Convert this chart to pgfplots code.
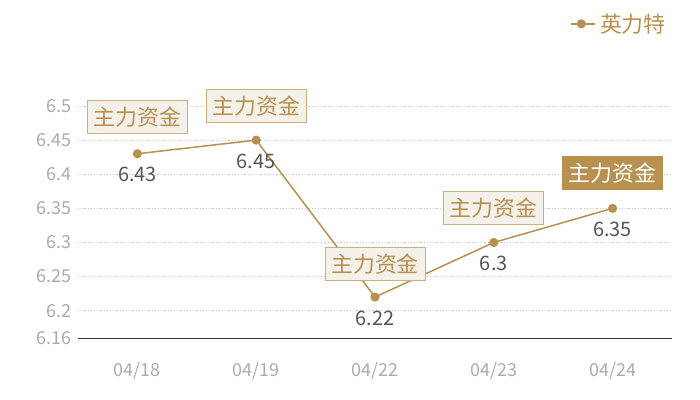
\documentclass[border=0pt]{standalone}
\usepackage{fontspec}
\setmainfont{Noto Sans CJK SC}
\usepackage{pgfplots}
\pgfplotsset{compat=1.18}
\definecolor{gold}{HTML}{B8904F}
\definecolor{boxfill}{HTML}{F4F0EA}
\definecolor{boxdraw}{HTML}{CDAE7E}
\definecolor{valgray}{HTML}{555555}
\definecolor{tickgray}{HTML}{ABABAB}
\definecolor{gridgray}{HTML}{C4C4C4}
\definecolor{axisdark}{HTML}{333333}
\pgfplotstableread{
x y
0 6.43
1 6.45
2 6.22
3 6.30
4 6.35
}\datatable
\begin{document}
\begin{tikzpicture}
\begin{axis}[
  scale only axis, width=594bp, height=232bp,
  xmin=-0.5, xmax=4.5, ymin=6.16, ymax=6.5,
  xtick={0,1,2,3,4}, xticklabels={04/18,04/19,04/22,04/23,04/24},
  ytick={6.16,6.2,6.25,6.3,6.35,6.4,6.45,6.5},
  yticklabels={6.16,6.2,6.25,6.3,6.35,6.4,6.45,6.5},
  /pgf/number format/assume math mode=true,
  axis x line*=bottom, axis y line*=left,
  y axis line style={draw=none},
  x axis line style={draw=axisdark, line width=1bp, -},
  major tick length=0pt,
  ymajorgrids, grid style={dash pattern=on 1.2bp off 2bp, gridgray, line width=0.8bp},
  yticklabel style={font=\fontsize{18}{18}\selectfont, text=tickgray, xshift=-3bp},
  xticklabel style={font=\fontsize{18}{18}\selectfont, text=tickgray, yshift=-21bp},
  legend style={at={(axis description cs:1,1)}, anchor=south east, xshift=-4bp, yshift=70bp,
    draw=none, fill=none, font=\fontsize{22}{22}\selectfont, text=gold, inner sep=0pt},
  legend cell align=left,
  clip=false,
]
\coordinate (o) at (rel axis cs:0,0);
\addplot[gold, line width=1.5bp, mark=*, mark size=3.8bp, mark options={fill=gold, draw=gold},
  nodes near coords, point meta=explicit,
  every node near coord/.append style={anchor=north, yshift=-13bp, inner sep=0pt,
    font=\fontsize{20}{20}\selectfont, text=valgray},
  legend image code/.code={
    \draw[gold, line width=1.5bp] (0bp,0bp) -- (24bp,0bp);
    \fill[gold] (10bp,0bp) circle (3.8bp);
  }]
  table[x=x, y=y, meta=y] {\datatable};
\addlegendentry{\hspace{2bp}英力特}
\tikzset{lbl/.style={fill=boxfill, draw=boxdraw, line width=1bp, text=gold,
  font=\fontsize{22}{22}\selectfont, minimum width=100bp, minimum height=33bp, inner sep=2bp, anchor=south}}
\node[lbl] at (axis cs:0,6.43) [yshift=20bp] {主力资金};
\node[lbl] at (axis cs:1,6.45) [yshift=17bp] {主力资金};
\node[lbl] at (axis cs:2,6.22) [yshift=16bp] {主力资金};
\node[lbl] at (axis cs:3,6.30) [yshift=17bp] {主力资金};
\node[lbl, fill=gold, draw=gold, text=white] at (axis cs:4,6.35) [yshift=18bp] {主力资金};
\end{axis}
\pgfresetboundingbox
\path[use as bounding box] ([shift={(-78bp,-62bp)}]o) rectangle ([shift={(622bp,338bp)}]o);
\end{tikzpicture}
\end{document}
